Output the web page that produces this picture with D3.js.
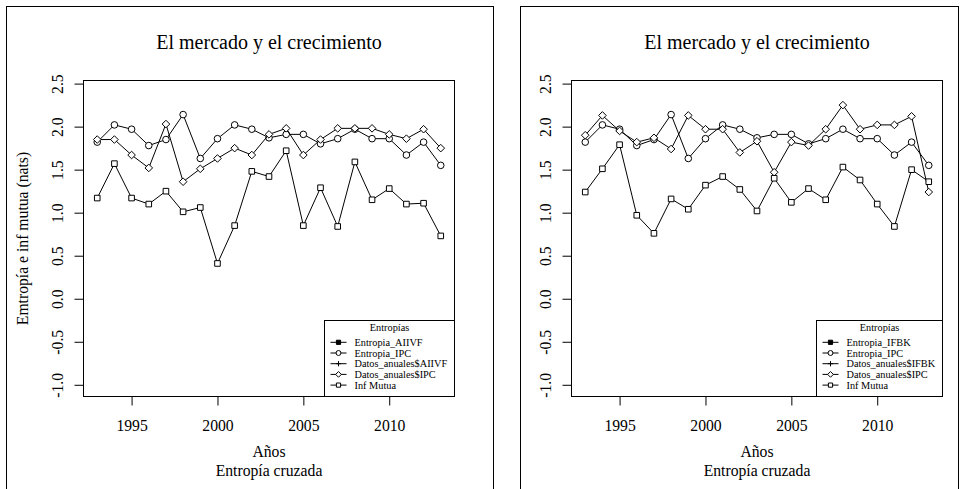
<!DOCTYPE html>
<html>
<head>
<meta charset="utf-8">
<script src="https://cdn.jsdelivr.net/npm/d3@7"></script>
<style>
    body { margin: 0; background: #fff; }
    svg text { font-family: "Liberation Serif", "Times New Roman", serif; fill: #000; }
</style>
</head>
<body>
<svg id="chart" width="964" height="489"></svg>
<script>
var FONT = '"Liberation Serif", "Times New Roman", serif';

// años de la serie
var years = [1993, 1994, 1995, 1996, 1997, 1998, 1999, 2000, 2001, 2002, 2003,
             2004, 2005, 2006, 2007, 2008, 2009, 2010, 2011, 2012, 2013];

// Entropia_IPC (círculos), igual en los dos gráficos
var entropiaIPC = [1.82, 2.02, 1.97, 1.78, 1.85, 2.14, 1.63, 1.86, 2.02, 1.97, 1.87,
                   1.91, 1.91, 1.80, 1.86, 1.97, 1.86, 1.86, 1.67, 1.82, 1.55];

// gráfico izquierdo (AIIVF)
var datosIPCIzq = [1.85, 1.85, 1.67, 1.52, 2.03, 1.36, 1.51, 1.63, 1.75, 1.67, 1.91,
                   1.98, 1.67, 1.85, 1.98, 1.98, 1.98, 1.91, 1.86, 1.97, 1.75];
var infMutuaIzq = [1.17, 1.57, 1.17, 1.10, 1.25, 1.01, 1.06, 0.41, 0.85, 1.48, 1.42,
                   1.72, 0.85, 1.29, 0.84, 1.59, 1.15, 1.28, 1.10, 1.11, 0.73];

// gráfico derecho (IFBK)
var datosIPCDer = [1.90, 2.13, 1.95, 1.82, 1.87, 1.74, 2.13, 1.97, 1.97, 1.70, 1.83,
                   1.47, 1.82, 1.78, 1.97, 2.25, 1.97, 2.02, 2.02, 2.12, 1.24];
var infMutuaDer = [1.24, 1.51, 1.79, 0.97, 0.76, 1.16, 1.04, 1.32, 1.42, 1.27, 1.02,
                   1.40, 1.12, 1.28, 1.15, 1.53, 1.38, 1.10, 0.84, 1.50, 1.36];

var xTicks = [1995, 2000, 2005, 2010];
var yTicks = [-1.0, -0.5, 0.0, 0.5, 1.0, 1.5, 2.0, 2.5];

var legendIzq = ["Entropia_AIIVF", "Entropia_IPC", "Datos_anuales$AIIVF", "Datos_anuales$IPC", "Inf Mutua"];
var legendDer = ["Entropia_IFBK", "Entropia_IPC", "Datos_anuales$IFBK", "Datos_anuales$IPC", "Inf Mutua"];
var legendPch = ["fsquare", "circle", "plus", "diamond", "square"];

var svg = d3.select("#chart");

// dibuja un símbolo tipo pch de R
function symbol(g, type, cx, cy, s) {
    var p = d3.path();
    if (type == "circle") {
        p.moveTo(cx + 3.3 * s, cy);
        p.arc(cx, cy, 3.3 * s, 0, 2 * Math.PI);
    } else if (type == "square" || type == "fsquare") {
        p.rect(cx - 2.8 * s, cy - 2.8 * s, 5.6 * s, 5.6 * s);
    } else if (type == "diamond") {
        p.moveTo(cx, cy - 3.8 * s);
        p.lineTo(cx + 3.8 * s, cy);
        p.lineTo(cx, cy + 3.8 * s);
        p.lineTo(cx - 3.8 * s, cy);
        p.closePath();
    } else if (type == "plus") {
        p.moveTo(cx - 3.5 * s, cy);
        p.lineTo(cx + 3.5 * s, cy);
        p.moveTo(cx, cy - 3.5 * s);
        p.lineTo(cx, cy + 3.5 * s);
    }
    g.append("path")
        .attr("d", p.toString())
        .attr("fill", type == "fsquare" ? "#000" : (type == "plus" ? "none" : "#fff"))
        .attr("stroke", "#000")
        .attr("stroke-width", 1);
}

function panel(cfg) {
    // marco de la figura (abierto por abajo)
    svg.append("rect")
        .attr("x", cfg.frame[0]).attr("y", 6.5)
        .attr("width", cfg.frame[1] - cfg.frame[0]).attr("height", 520)
        .attr("fill", "none").attr("stroke", "#000").attr("stroke-width", 1);

    var g = svg.append("g").attr("transform", "translate(" + cfg.dx + ",0)");

    var x = d3.scaleLinear().domain([1992.2, 2013.8]).range([83.5, 454.5]);
    var y = d3.scaleLinear().domain([-1.136, 2.536]).range([396.5, 80.5]);

    // eje x
    var ax = g.append("g").attr("transform", "translate(0," + y.range()[0] + ")")
        .call(d3.axisBottom(x).tickValues(xTicks).tickSize(9).tickPadding(14).tickFormat(d3.format("d")));
    ax.select(".domain").remove();
    ax.attr("font-family", null).attr("font-size", null);
    ax.selectAll("text").style("font-family", FONT).style("font-size", "15.7px");

    // eje y, etiquetas verticales como en R
    var ay = g.append("g").attr("transform", "translate(" + x.range()[0] + ",0)")
        .call(d3.axisLeft(y).tickValues(yTicks).tickSize(9).tickFormat(function (d) { return d.toFixed(1); }));
    ay.select(".domain").remove();
    ay.attr("font-family", null).attr("font-size", null);
    ay.selectAll("text")
        .attr("x", null).attr("dy", null)
        .attr("transform", "translate(-21,0) rotate(-90)")
        .attr("text-anchor", "middle")
        .style("font-family", FONT).style("font-size", "15.7px");
    g.selectAll(".tick line").attr("stroke", "#000");

    // series
    var line = d3.line().x(function (d) { return x(d[0]); }).y(function (d) { return y(d[1]); });
    cfg.series.forEach(function (s) {
        var pts = years.map(function (yr, i) { return [yr, s.values[i]]; });
        g.append("path").datum(pts)
            .attr("d", line).attr("fill", "none")
            .attr("stroke", "#000").attr("stroke-width", 1);
        var gp = g.append("g");
        pts.forEach(function (d) { symbol(gp, s.pch, x(d[0]), y(d[1]), 1); });
    });

    // caja del gráfico
    g.append("rect")
        .attr("x", x.range()[0]).attr("y", y.range()[1])
        .attr("width", x.range()[1] - x.range()[0]).attr("height", y.range()[0] - y.range()[1])
        .attr("fill", "none").attr("stroke", "#000").attr("stroke-width", 1);

    // textos
    var cx = (x.range()[0] + x.range()[1]) / 2;
    g.append("text").attr("x", cx).attr("y", 49).attr("text-anchor", "middle")
        .style("font-family", FONT).style("font-size", "20px").text("El mercado y el crecimiento");
    g.append("text").attr("x", cx).attr("y", 457).attr("text-anchor", "middle")
        .style("font-family", FONT).style("font-size", "15.7px").text("Años");
    g.append("text").attr("x", cx).attr("y", 475.5).attr("text-anchor", "middle")
        .style("font-family", FONT).style("font-size", "15.7px").text("Entropía cruzada");
    if (cfg.ylab) {
        var cy = (y.range()[0] + y.range()[1]) / 2;
        g.append("text").attr("transform", "translate(28," + cy + ") rotate(-90)")
            .attr("text-anchor", "middle")
            .style("font-family", FONT).style("font-size", "15.7px").text(cfg.ylab);
    }

    // leyenda abajo a la derecha
    var lg = g.append("g");
    var box = lg.append("rect").attr("fill", "#fff").attr("stroke", "#000").attr("stroke-width", 1);
    var step = 10.7;
    var maxW = 0;
    var texts = cfg.legend.map(function (t, i) {
        var tx = lg.append("text").attr("y", 342.3 + i * step + 3.5)
            .style("font-family", FONT).style("font-size", "10.3px").text(t);
        maxW = Math.max(maxW, tx.node().getComputedTextLength());
        return tx;
    });
    var right = x.range()[1];
    var left = Math.round(right - (30 + maxW + 8)) + 0.5;
    var top = 320.5;
    box.attr("x", left).attr("y", top).attr("width", right - left).attr("height", y.range()[0] - top);
    texts.forEach(function (tx) { tx.attr("x", left + 30); });
    lg.append("text").attr("x", (left + right) / 2).attr("y", 331)
        .attr("text-anchor", "middle")
        .style("font-family", FONT).style("font-size", "10.3px").text("Entropías");
    cfg.legend.forEach(function (t, i) {
        var yy = 342.3 + i * step;
        lg.append("line").attr("x1", left + 6).attr("x2", left + 22)
            .attr("y1", yy).attr("y2", yy).attr("stroke", "#000").attr("stroke-width", 1);
        symbol(lg, legendPch[i], left + 14, yy, 0.75);
    });
}

panel({
    dx: 0,
    frame: [6.5, 493.5],
    ylab: "Emtropía e inf mutua (nats)",
    legend: legendIzq,
    series: [
        {values: entropiaIPC, pch: "circle"},
        {values: datosIPCIzq, pch: "diamond"},
        {values: infMutuaIzq, pch: "square"}
    ]
});

panel({
    dx: 488,
    frame: [520.5, 958.5],
    ylab: null,
    legend: legendDer,
    series: [
        {values: entropiaIPC, pch: "circle"},
        {values: datosIPCDer, pch: "diamond"},
        {values: infMutuaDer, pch: "square"}
    ]
});
</script>
</body>
</html>
